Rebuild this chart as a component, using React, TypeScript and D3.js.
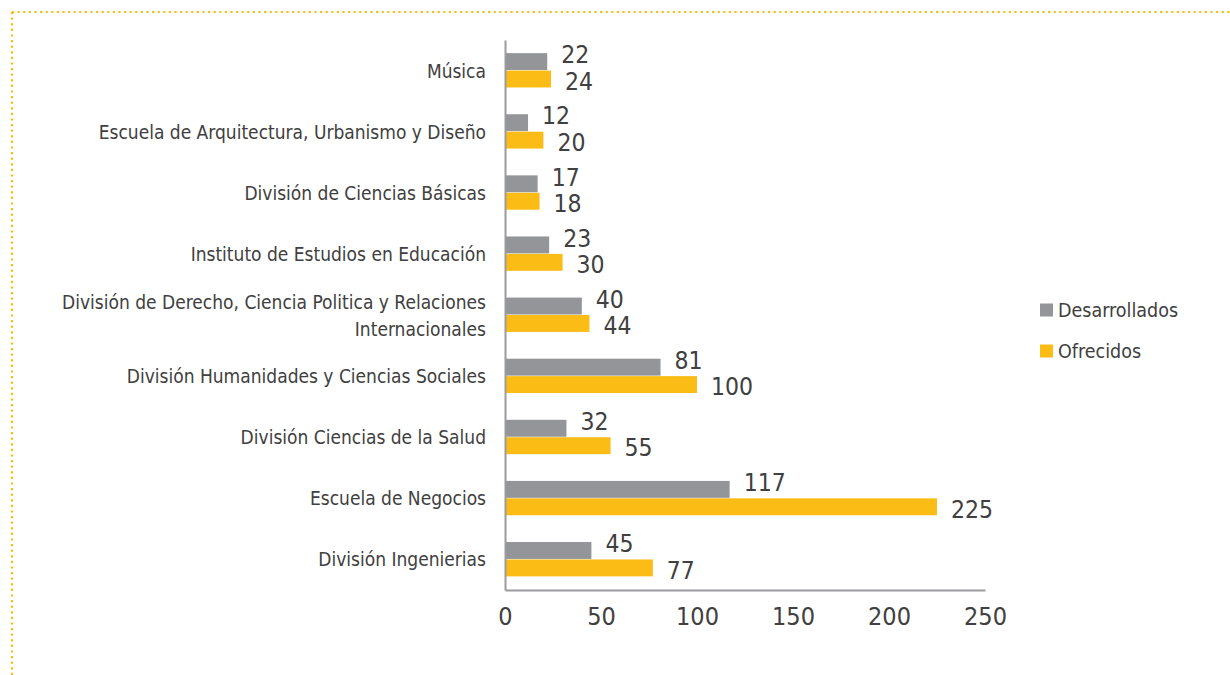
import React, { useRef, useEffect } from 'react';
import * as d3 from 'd3';

const categories = [
  'Música',
  'Escuela de Arquitectura, Urbanismo y Diseño',
  'División de Ciencias Básicas',
  'Instituto de Estudios en Educación',
  'División de Derecho, Ciencia Politica y Relaciones|Internacionales',
  'División Humanidades y Ciencias Sociales',
  'División Ciencias de la Salud',
  'Escuela de Negocios',
  'División Ingenierias',
];
const desarrollados = [22, 12, 17, 23, 40, 81, 32, 117, 45];
const ofrecidos = [24, 20, 18, 30, 44, 100, 55, 225, 77];
const seriesNames = ['Desarrollados', 'Ofrecidos'];
const xTicks = [0, 50, 100, 150, 200, 250];

const colors = ['#939598', '#FBBC15'];
const textColor = '#404040';
const font = '"Liberation Sans Narrow", "DejaVu Sans Condensed", sans-serif';

export default function App({ width = 1230, height = 675, margin = { top: 40, right: 245, bottom: 85, left: 505 } }) {
  const svgRef = useRef<SVGSVGElement>(null);

  useEffect(() => {
    const svg = d3.select(svgRef.current);
    svg.selectAll('*').remove();

    const rows = categories.map((c, i) => ({ cat: c, values: [desarrollados[i], ofrecidos[i]] }));

    // dotted frame, top and left only
    svg.append('line')
      .attr('x1', 12).attr('x2', width).attr('y1', 12).attr('y2', 12)
      .attr('stroke', '#FBBC15').attr('stroke-width', 2.2)
      .attr('stroke-dasharray', '2.2,3.4');
    svg.append('line')
      .attr('x1', 12).attr('x2', 12).attr('y1', 12).attr('y2', height)
      .attr('stroke', '#FBBC15').attr('stroke-width', 2.2)
      .attr('stroke-dasharray', '2.2,3.4');

    const x = d3.scaleLinear()
      .domain([0, 250])
      .range([margin.left, width - margin.right]);

    const y = d3.scaleBand()
      .domain(categories)
      .range([margin.top, height - margin.bottom])
      .paddingInner(0.43)
      .paddingOuter(0.215);

    const ySub = d3.scaleBand()
      .domain(seriesNames)
      .range([0, y.bandwidth()]);

    // bars
    const groups = svg.append('g')
      .selectAll('g')
      .data(rows)
      .join('g')
      .attr('transform', d => `translate(0,${y(d.cat)})`);

    groups.selectAll('rect')
      .data(d => d.values.map((v, k) => ({ v, k })))
      .join('rect')
      .attr('x', x(0))
      .attr('y', d => ySub(seriesNames[d.k])!)
      .attr('width', d => x(d.v) - x(0))
      .attr('height', ySub.bandwidth() - 0.5)
      .attr('fill', d => colors[d.k]);

    groups.selectAll('text')
      .data(d => d.values.map((v, k) => ({ v, k })))
      .join('text')
      .attr('x', d => x(d.v) + 14)
      .attr('y', d => ySub(seriesNames[d.k])! + ySub.bandwidth() / 2 + (d.k === 0 ? -7 : 2))
      .attr('dominant-baseline', 'central')
      .attr('fill', textColor)
      .attr('font-size', 24.5)
      .attr('font-family', font)
      .text(d => d.v);

    // axes
    svg.append('g')
      .attr('transform', `translate(0,${height - margin.bottom})`)
      .call(d3.axisBottom(x).tickValues(xTicks).tickSize(0).tickPadding(17))
      .call(g => g.select('.domain').attr('stroke', '#9b9b9f').attr('stroke-width', 2))
      .call(g => g.selectAll('.tick text')
        .attr('fill', textColor)
        .attr('font-size', 25)
        .attr('font-family', font));

    svg.append('g')
      .attr('transform', `translate(${margin.left},0)`)
      .call(d3.axisLeft(y).tickSize(0).tickPadding(19).tickFormat(() => ''))
      .call(g => g.select('.domain').attr('stroke', '#9b9b9f').attr('stroke-width', 2))
      .call(g => g.selectAll('.tick').each(function (d) {
        const lines = String(d).split('|');
        const t = d3.select(this).select('text')
          .attr('fill', textColor)
          .attr('font-size', 19)
          .attr('font-family', font)
          .attr('dy', null)
          .attr('dominant-baseline', 'central');
        lines.forEach((ln, i) => {
          t.append('tspan')
            .attr('x', -19)
            .attr('y', (i - (lines.length - 1) / 2) * 27)
            .text(ln);
        });
      }));

    // legend
    const legend = svg.append('g')
      .attr('transform', `translate(${width - 190},310)`);
    seriesNames.forEach((name, i) => {
      const row = legend.append('g').attr('transform', `translate(0,${i * 41})`);
      row.append('rect')
        .attr('x', 0).attr('y', -6.5)
        .attr('width', 13).attr('height', 13)
        .attr('fill', colors[i]);
      row.append('text')
        .attr('x', 18).attr('y', 0)
        .attr('dominant-baseline', 'central')
        .attr('fill', textColor)
        .attr('font-size', 19.5)
        .attr('font-family', font)
        .text(name);
    });
  }, []);

  return (
    <svg
      ref={svgRef}
      width={width}
      height={height}
      style={{ position: 'absolute', left: 0, top: 0, display: 'block', background: '#fff' }}
    />
  );
}
